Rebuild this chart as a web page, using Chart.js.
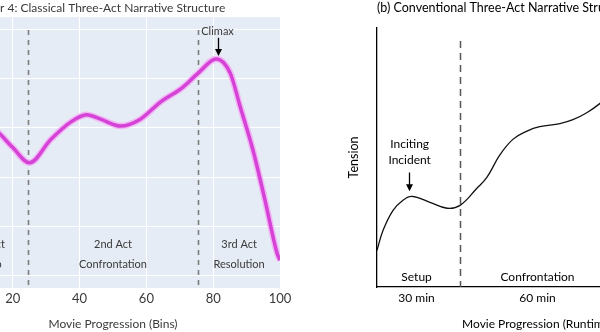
<!DOCTYPE html>
<html>
<head>
<meta charset="utf-8">
<script src="https://cdn.jsdelivr.net/npm/chart.js@4.4.1/dist/chart.umd.min.js"></script>
<style>
  html, body { margin: 0; padding: 0; background: #fff; }
  body { width: 600px; height: 332px; overflow: hidden; position: relative; }
  #left { position: absolute; left: -54px; top: 0; }
  #right { position: absolute; left: 300px; top: 0; }
</style>
</head>
<body>
<canvas id="left" width="356" height="332"></canvas>
<canvas id="right" width="430" height="332"></canvas>
<script>
// (a) classical structure, x in bins
var binX       = [15, 16.4, 20, 25, 31.3, 37.3, 42.1, 46.3, 52.2, 58.2, 64.2, 70.7, 75.5, 80.9, 85.1, 88.1, 91.9, 95.5, 99.1, 100];
var binTension = [3.95, 3.86, 3.6, 3.29, 3.76, 4.12, 4.27, 4.18, 4.04, 4.18, 4.53, 4.82, 5.12, 5.41, 5.12, 4.43, 3.55, 2.53, 1.45, 1.3];
var binTicks   = [20, 40, 60, 80, 100];
var binGrid    = [1, 2, 3, 4, 5, 6];
var actBreaks  = [24.5, 75.5];

// (b) conventional structure, x in minutes
var minX       = [0, 2.2, 5.8, 9.4, 12.6, 19.1, 25.3, 30, 36.1, 39.7, 44.4, 49.1, 54.2, 58.8, 66.1, 70.8, 75.8, 80.5, 83];
var minTension = [1.42, 2.19, 2.96, 3.35, 3.5, 3.27, 3.04, 3.15, 3.81, 4.23, 5.1, 5.7, 6.02, 6.19, 6.31, 6.46, 6.73, 7.08, 7.35];
var actPos     = [14.3, 58];
var actLength  = ['30 min', '60 min'];
var actNames   = ['Setup', 'Confrontation'];

var FONT = 'Lato, "Open Sans", sans-serif';

function pts(xs, ys) {
  return xs.map(function (x, i) { return {x: x, y: ys[i]}; });
}

// background, dashed act lines, text and arrows
var notes = {
  id: 'notes',
  beforeDraw: function (chart, args, o) {
    if (!o.bg) return;
    var a = chart.chartArea, ctx = chart.ctx;
    ctx.save();
    ctx.fillStyle = o.bg;
    ctx.fillRect(a.left, a.top, a.width, a.height);
    ctx.restore();
  },
  beforeDatasetsDraw: function (chart, args, o) {
    var ctx = chart.ctx, a = chart.chartArea, sx = chart.scales.x;
    ctx.save();
    ctx.strokeStyle = o.dashColor;
    ctx.lineWidth = o.dashWidth;
    ctx.setLineDash(o.dash);
    (o.lines || []).forEach(function (v) {
      var px = Math.round(sx.getPixelForValue(v)) + 0.5;
      ctx.beginPath();
      ctx.moveTo(px, a.top + o.dashTop);
      ctx.lineTo(px, a.bottom);
      ctx.stroke();
    });
    ctx.restore();
  },
  afterDraw: function (chart, args, o) {
    var ctx = chart.ctx, sx = chart.scales.x, sy = chart.scales.y;
    ctx.save();
    ctx.textBaseline = 'middle';
    (o.texts || []).forEach(function (t) {
      ctx.font = t.size + 'px ' + FONT;
      ctx.fillStyle = t.color || o.color;
      var px = t.px != null ? t.px : sx.getPixelForValue(t.x);
      var py = t.py != null ? t.py : sy.getPixelForValue(t.y);
      ctx.textAlign = t.align || 'center';
      ctx.fillText(t.text, px, py);
    });
    (o.arrows || []).forEach(function (ar) {
      var px = Math.round(sx.getPixelForValue(ar.x)) + 0.5;
      var y1 = sy.getPixelForValue(ar.y1), y2 = sy.getPixelForValue(ar.y2);
      ctx.strokeStyle = '#000';
      ctx.fillStyle = '#000';
      ctx.lineWidth = 1.3;
      ctx.beginPath();
      ctx.moveTo(px, y1);
      ctx.lineTo(px, y2 - 5);
      ctx.stroke();
      ctx.beginPath();
      ctx.moveTo(px - 3.5, y2 - 7);
      ctx.lineTo(px + 3.5, y2 - 7);
      ctx.lineTo(px, y2);
      ctx.closePath();
      ctx.fill();
    });
    ctx.restore();
  }
};

new Chart(document.getElementById('left'), {
  type: 'line',
  data: {
    datasets: [{
      data: pts(binX, binTension),
      borderColor: '#d443d6',
      borderWidth: 3.5,
      pointRadius: 0,
      cubicInterpolationMode: 'monotone'
    }, {
      data: pts(binX, binTension),
      borderColor: 'rgba(244,172,244,0.85)',
      borderWidth: 6.5,
      pointRadius: 0,
      cubicInterpolationMode: 'monotone'
    }]
  },
  options: {
    responsive: false,
    animation: false,
    layout: {padding: {top: 17, right: 22, left: 0, bottom: 0}},
    scales: {
      x: {
        type: 'linear', min: 0, max: 100,
        afterBuildTicks: function (s) { s.ticks = binTicks.map(function (v) { return {value: v}; }); },
        afterFit: function (s) { s.height = 44; },
        grid: {color: '#fff', lineWidth: 1, drawTicks: false},
        border: {display: false},
        ticks: {color: '#3a3a3a', font: {family: FONT, size: 13}, padding: 3, maxRotation: 0},
        title: {display: true, text: 'Movie Progression (Bins)', color: '#3a3a3a',
                font: {family: FONT, size: 12}, padding: {top: 0, bottom: 1}}
      },
      y: {
        min: 0.735, max: 6.265,
        afterBuildTicks: function (s) { s.ticks = binGrid.map(function (v) { return {value: v}; }); },
        afterFit: function (s) { s.width = 0; },
        grid: {color: '#fff', lineWidth: 1, drawTicks: false},
        border: {display: false},
        ticks: {display: false}
      }
    },
    plugins: {
      legend: {display: false},
      tooltip: {enabled: false},
      notes: {
        bg: '#e5ecf6',
        lines: actBreaks,
        dash: [5, 5], dashWidth: 1.6, dashColor: '#7c7c7c', dashTop: 13,
        color: '#3a3a3a',
        texts: [
          {px: 54, py: 8, text: 'r 4: Classical Three-Act Narrative Structure', size: 12, align: 'left'},
          {x: 81.3, y: 5.98, text: 'Climax', size: 11},
          {x: 12.5, y: 1.63, text: '1st Act', size: 11},
          {x: 12.5, y: 1.22, text: 'Setup', size: 11},
          {x: 50, y: 1.63, text: '2nd Act', size: 11},
          {x: 50, y: 1.22, text: 'Confrontation', size: 11},
          {x: 87.75, y: 1.63, text: '3rd Act', size: 11},
          {x: 87.75, y: 1.22, text: 'Resolution', size: 11}
        ],
        arrows: [{x: 81.3, y1: 5.84, y2: 5.47}]
      }
    }
  },
  plugins: [notes]
});

new Chart(document.getElementById('right'), {
  type: 'line',
  data: {
    datasets: [{
      data: pts(minX, minTension),
      borderColor: '#111',
      borderWidth: 1.3,
      pointRadius: 0,
      tension: 0.4
    }]
  },
  options: {
    responsive: false,
    animation: false,
    layout: {padding: {top: 0, right: 32, left: 46, bottom: 0}},
    scales: {
      x: {
        type: 'linear', min: 0, max: 116,
        afterBuildTicks: function (s) { s.ticks = actPos.map(function (v) { return {value: v}; }); },
        afterFit: function (s) { s.height = 45; },
        grid: {display: false, drawTicks: false},
        border: {display: true, color: '#000', width: 1.3},
        ticks: {color: '#000', font: {family: FONT, size: 12}, padding: 4, maxRotation: 0,
                callback: function (v, i) { return actLength[i]; }},
        title: {display: true, text: 'Movie Progression (Runtime)', color: '#000',
                font: {family: FONT, size: 12}, padding: {top: 0, bottom: 1}}
      },
      y: {
        min: 0, max: 10,
        afterFit: function (s) { s.width = 31; },
        grid: {display: false, drawTicks: false},
        border: {display: true, color: '#000', width: 1.3},
        ticks: {display: false},
        title: {display: true, text: 'Tension', color: '#000',
                font: {family: FONT, size: 12.5}, padding: {top: 0, bottom: 0}}
      }
    },
    plugins: {
      legend: {display: false},
      tooltip: {enabled: false},
      title: {display: true, text: '(b) Conventional Three-Act Narrative Structure', align: 'start',
              fullSize: false, color: '#000', font: {family: FONT, size: 12.5, weight: 'normal'},
              padding: {top: 0, bottom: 13}},
      notes: {
        lines: [30],
        dash: [7, 5], dashWidth: 1.5, dashColor: '#555', dashTop: 13,
        color: '#000',
        texts: [
          {x: actPos[0], y: 0.38, text: actNames[0], size: 12},
          {x: actPos[1], y: 0.38, text: actNames[1], size: 12},
          {x: 11.8, y: 5.5, text: 'Inciting', size: 12},
          {x: 11.8, y: 4.88, text: 'Incident', size: 12}
        ],
        arrows: [{x: 11.6, y1: 4.42, y2: 3.7}]
      }
    }
  },
  plugins: [notes]
});
</script>
</body>
</html>
